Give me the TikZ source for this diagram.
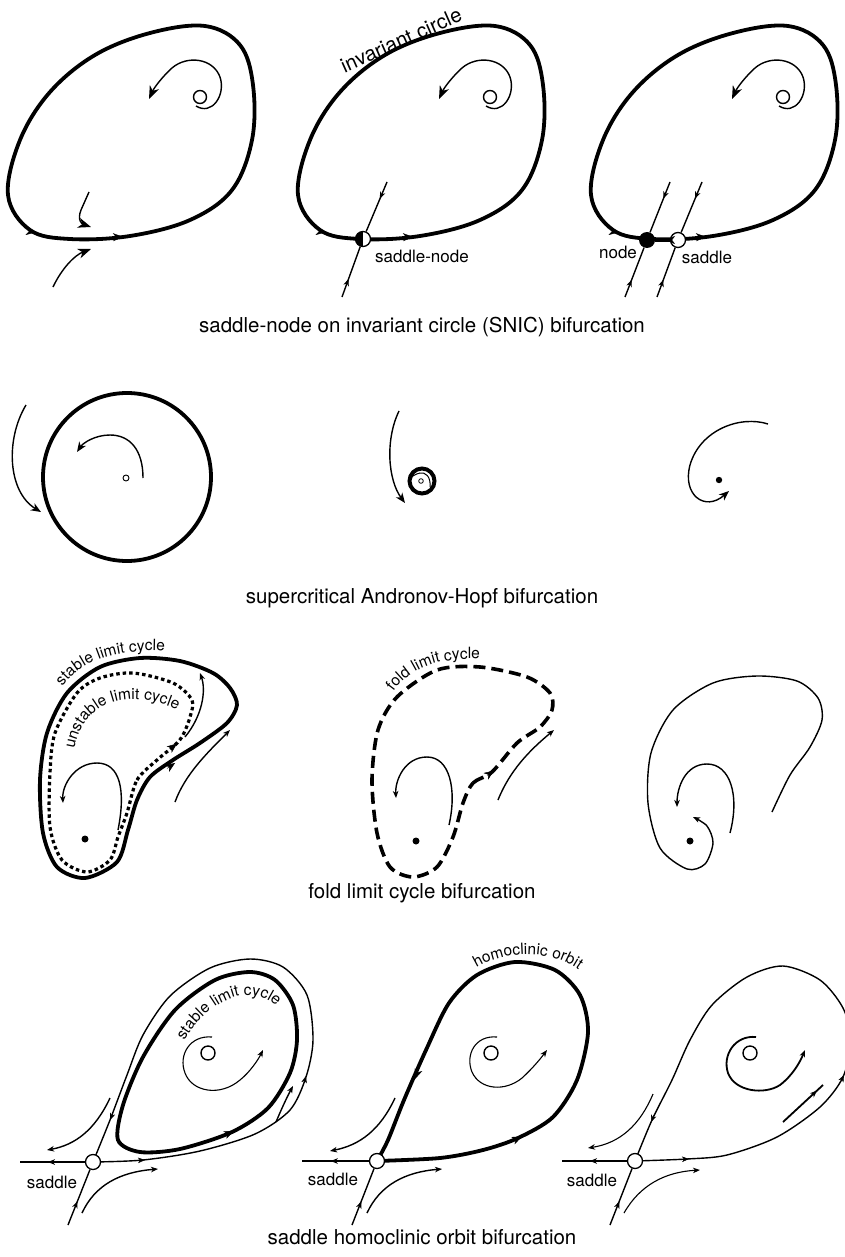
\documentclass[tikz,border=0pt]{standalone}
\usepackage{fontspec}
\setmainfont{TeX Gyre Heros}
\usetikzlibrary{arrows.meta,decorations.text,decorations.markings}
\newcommand\capfont{\fontsize{20.5}{24}\selectfont}
\newcommand\lblfont{\fontsize{17}{20}\selectfont}
\newcommand\crvfont{\fontsize{15.5}{18}\selectfont}
\newcommand\tip[3]{\draw[line width=0.4pt,#1] #2 -- #3;}
\tikzset{
  thk/.style={line width=3.8pt},
  thn/.style={line width=1.4pt},
  hair/.style={line width=1.1pt},
  tipL/.style={-{Stealth[length=13pt,width=10pt,inset=4pt]}},
  tipM/.style={-{Stealth[length=10pt,width=8pt,inset=3pt]}},
  tipS/.style={-{Stealth[length=7pt,width=5.5pt,inset=2pt]}},
  marr/.style={postaction={decorate,decoration={markings,mark=at position #1 with {\arrow{Stealth[length=7pt,width=5.5pt,inset=2pt]}}}}},
  lbl/.style={font=\lblfont, inner sep=0pt},
  captxt/.style={font=\capfont, inner sep=0pt},
  sad/.style={circle, draw, line width=1.3pt, fill=white, minimum size=15pt, inner sep=0pt},
  snode/.style={circle, draw, line width=1.3pt, fill=white, minimum size=15pt, inner sep=0pt,
    path picture={\fill[black] (path picture bounding box.south west) rectangle (path picture bounding box.north);}},
  fnode/.style={circle, fill=black, minimum size=16pt, inner sep=0pt},
  crv/.style={decorate, decoration={text along path, text align=center, text={|\crvfont|#1}}},
}
\begin{document}
\begin{tikzpicture}[x=1pt,y=-1pt]
\useasboundingbox (0,0) rectangle (844,1257);
\fill[white] (0,0) rectangle (844,1257);

% ================= ROW 1 : SNIC =================
\foreach \dx in {0,290,583}{
 \begin{scope}[xshift=\dx pt]
  \draw[thk] plot[smooth cycle, tension=0.6] coordinates {(8,195) (30,230) (70,239) (130,236) (190,220) (232,190) (252,140) (253,85) (240,45) (205,26) (150,33) (95,55) (50,92) (20,140)};
  \draw[thn] (200,97) circle (6.5pt);
  \draw[thn,tipL] (196,106) .. controls (212,116) and (226,95) .. (220,77) .. controls (213,58) and (187,55) .. (172,68) .. controls (162,77) and (154,88) .. (149,99);
  \tip{tipM}{(29,231.4)}{(36,232.4)}
  \tip{tipM}{(116,237.1)}{(123,236.9)}
 \end{scope}}
% panel 1
\draw[thn,tipL] (89,192) -- (81,210) .. controls (77,220) and (82,224) .. (91,227);
\draw[thn,tipL] (53,287) .. controls (62,268) and (75,255) .. (91,249);
% panel 2
\node[snode] (sn) at (363,239) {};
\draw[thn, marr=0.34] (387,182) -- (sn);
\draw[thn, marr=0.36] (342,297) -- (sn);
\node[lbl] (snl) at (422,256) {saddle-node};
\node[font=\fontsize{20.5}{24}\selectfont, inner sep=0pt, rotate=24] (ic) at (401,40) {invariant circle};
% panel 3
\node[fnode] (nd) at (647,240) {};
\node[sad] (sd3) at (678,240) {};
\draw[thk] (sd3) -- (nd);
\tip{tipM}{(671,240)}{(665,240)}
\draw[thn, marr=0.33] (670,182) -- (nd);
\draw[thn, marr=0.35] (625,297) -- (nd);
\draw[thn, marr=0.33] (702,182) -- (sd3);
\draw[thn, marr=0.35] (657,297) -- (sd3);
\node[lbl] (ndl) at (618,252) {node};
\node[lbl] (sdl3) at (707,257) {saddle};
\node[captxt] (c1) at (422,327) {saddle-node on invariant circle (SNIC) bifurcation};

% ================= ROW 2 : Hopf =================
\draw[thk] (127,477) circle (84pt);
\draw[line width=0.9pt] (126,478) circle (3pt);
\draw[thn,tipM] (143,478) .. controls (143,450) and (130,435) .. (110,435) .. controls (95,435) and (83,443) .. (77,452);
\draw[thn,tipM] (26,405) .. controls (5,440) and (8,492) .. (41,512);

\draw[line width=4pt] (422,481) circle (12.5pt);
\draw[line width=0.8pt] (421,481) circle (2.3pt);
\draw[line width=1pt, -{Stealth[length=4pt,width=3.5pt]}] (430,487) .. controls (431,476) and (425,472) .. (420,473) .. controls (415,474) and (411,477) .. (410,481);
\draw[thn,tipM] (399,411) .. controls (385,440) and (388,480) .. (405,503);

\fill (719,480) circle (3.2pt);
\draw[thn,tipM] (768,424) .. controls (740,415) and (700,430) .. (690,465) .. controls (682,495) and (705,512) .. (729,491);
\node[captxt] (c2) at (422,598) {supercritical Andronov-Hopf bifurcation};

% ================= ROW 3 : fold limit cycle =================
\draw[thk] plot[smooth cycle] coordinates {(137,800) (150,777) (173,760) (200,743) (227,723) (237,705) (230,688) (213,673) (180,661) (140,658) (100,667) (67,693) (47,733) (40,780) (43,833) (57,867) (85,878) (117,862) (128,830)};
\draw[line width=3.2pt, dash pattern=on 3.5pt off 3pt] plot[smooth cycle] coordinates {(127,813) (137,780) (157,760) (175,745) (183,735) (190,717) (192,700) (173,683) (133,673) (100,678) (77,693) (55,733) (50,773) (50,827) (62,860) (87,872) (110,860) (118,837)};
\tip{tipM}{(167,768.5)}{(175,763)}
\tip{tipM}{(170,749)}{(177,743.5)}
\draw[thn,tipS] (118,830) .. controls (126,790) and (120,763) .. (97,763) .. controls (75,763) and (62,785) .. (63,803);
\draw[thn,tipS] (185,737) .. controls (203,715) and (206,690) .. (200,673);
\draw[thn,tipS] (175,802) .. controls (185,775) and (205,755) .. (230,730);
\fill (85,839) circle (3.5pt);
\path[crv={stable limit cycle}] (55,700) .. controls (72,660) and (120,645) .. (180,653);
\path[crv={unstable limit cycle}] (74,754) .. controls (78,705) and (125,683) .. (182,712);

\draw[line width=3.6pt, dash pattern=on 12pt off 6pt] plot[smooth cycle] coordinates {(463,803) (473,783) (492,772) (517,743) (540,727) (552,710) (550,693) (527,677) (480,667) (437,670) (397,697) (378,730) (372,780) (377,833) (390,867) (413,877) (437,867) (453,837)};
\tip{tipM}{(487,775.5)}{(494,770.6)}
\fill (416,841) circle (3.5pt);
\draw[thn,tipS] (449,825) .. controls (457,790) and (450,757) .. (427,757) .. controls (405,757) and (395,780) .. (396,798);
\draw[thn,tipS] (498,800) .. controls (510,770) and (530,750) .. (554,730);
\path[crv={fold limit cycle}] (388,700) .. controls (405,668) and (440,655) .. (490,660);

\draw[thn, tipS] plot[smooth] coordinates {(772,812) (790,775) (810,747) (822,720) (818,698) (797,681) (757,676) (713,683) (673,710) (651,753) (648,803) (660,848) (687,869) (705,864) (713,843) (707,826) (693,817)};
\draw[thn,tipS] (730,833) .. controls (740,795) and (730,764) .. (707,764) .. controls (685,764) and (677,788) .. (677,807);
\fill (690,841) circle (3.5pt);
\node[captxt] (c3) at (422,893) {fold limit cycle bifurcation};

% ================= ROW 4 : homoclinic =================
% panel 1
\draw[thn] plot[smooth] coordinates {(93,1162) (143,1160) (200,1151) (255,1134) (290,1110) (306,1077) (313,1040) (307,995) (283,967) (250,959) (210,968) (170,996) (143,1035) (127,1075) (110,1120) (93,1162)};
\draw[thk] plot[smooth cycle] coordinates {(118,1140) (140,1152) (180,1149) (232,1132) (268,1108) (290,1073) (297,1040) (293,1005) (275,980) (250,972) (215,980) (175,1010) (143,1057) (123,1105)};
\tip{tipM}{(226,1134.5)}{(234,1131)}
\tip{tipS}{(139,1160.3)}{(145,1160)}
\tip{tipS}{(304,1083)}{(306,1076)}
\tip{tipS}{(112,1115)}{(110,1120)}
\draw[thn,tipS] (276,1122) .. controls (281,1110) and (287,1097) .. (293,1086);
\draw[thn] (208,1053) circle (7pt);
\draw[hair,tipS] (212,1037) .. controls (190,1035) and (178,1055) .. (185,1073) .. controls (192,1092) and (220,1097) .. (240,1080) .. controls (250,1072) and (258,1060) .. (263,1050);
\path[crv={stable limit cycle}] (180,1050) .. controls (200,1003) and (255,974) .. (283,1014);
\node[sad] (s1) at (93,1162) {};
\draw[thn, marr=0.57] (s1) -- (20,1162);
\draw[thn, marr=0.43] (68,1225) -- (s1);
\draw[thn,tipS] (110,1098) .. controls (95,1130) and (75,1145) .. (47,1150);
\draw[thn,tipS] (82,1213) .. controls (95,1185) and (120,1172) .. (158,1169);
\node[lbl] (sl1) at (52,1182) {saddle};

% panel 2
\draw[thk] plot[smooth] coordinates {(377,1161) (440,1158) (483,1150) (518,1138) (553,1117) (577,1080) (588,1032) (580,995) (555,970) (515,962) (477,975) (449,1003) (426,1050) (404,1100) (388,1140) (377,1161)};
\tip{tipM}{(514,1140.2)}{(522,1136.5)}
\tip{tipM}{(418,1071)}{(415,1079)}
\draw[thn] (491,1053) circle (7pt);
\draw[hair,tipS] (497,1037) .. controls (475,1035) and (465,1055) .. (472,1072) .. controls (480,1090) and (505,1092) .. (522,1078) .. controls (533,1068) and (541,1058) .. (547,1050);
\path[crv={homoclinic orbit}] (460,982) .. controls (485,950) and (560,940) .. (594,985);
\node[sad] (s2) at (377,1161) {};
\draw[thn, marr=0.57] (s2) -- (302,1161);
\draw[thn, marr=0.42] (352,1225) -- (s2);
\draw[thn,tipS] (395,1098) .. controls (380,1130) and (360,1145) .. (330,1151);
\draw[thn,tipS] (367,1213) .. controls (380,1185) and (405,1172) .. (442,1169);
\node[lbl] (sl2) at (333,1179) {saddle};

% panel 3
\draw[thn] plot[smooth] coordinates {(635,1161) (687,1159) (727,1155) (777,1137) (820,1107) (843,1077) (851,1040) (843,1008) (820,980) (783,966) (747,977) (712,1005) (690,1040) (672,1080) (652,1120) (635,1161)};
\tip{tipS}{(683,1159.2)}{(689,1159)}
\tip{tipS}{(841,1081)}{(844,1075)}
\tip{tipS}{(654,1115)}{(651,1122)}
\draw[line width=1.8pt, marr=0.85] (783,1122) -- (823,1085);
\draw[thn] (750,1053) circle (7pt);
\draw[line width=1.8pt,tipS] (756,1037) .. controls (735,1035) and (722,1055) .. (728,1073) .. controls (735,1092) and (765,1095) .. (780,1085) .. controls (793,1075) and (800,1062) .. (805,1050);
\node[sad] (s3) at (635,1161) {};
\draw[thn, marr=0.57] (s3) -- (562,1161);
\draw[thn, marr=0.42] (610,1225) -- (s3);
\draw[hair,tipS] (653,1094) .. controls (640,1125) and (620,1143) .. (588,1148);
\draw[hair,tipS] (624,1213) .. controls (640,1185) and (665,1172) .. (700,1170);
\node[lbl] (sl3) at (592,1180) {saddle};
\node[captxt] (c4) at (422,1237) {saddle homoclinic orbit bifurcation};
\end{tikzpicture}
\end{document}
